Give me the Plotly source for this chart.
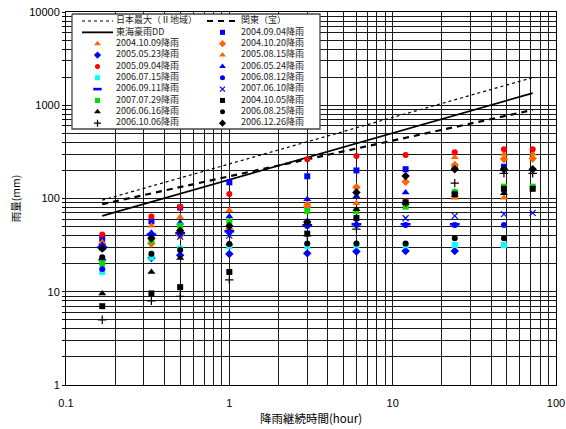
import plotly.graph_objects as go

# Rain duration of each measured maximum (minutes -> hours)
durations_min = [10, 20, 30, 60, 180, 360, 720, 1440, 2880, 4320]
hours = [m / 60 for m in durations_min]

# Reference envelope curves (end points of straight log-log lines)
curve_hours = [10 / 60, 72]
japan_max = [96, 1980]       # 日本最大(Ⅱ地域)
kanto = [87, 890]            # 関東(宝)
tokai_dd = [65, 1350]        # 東海豪雨DD

# Observed maximum rainfall (mm) per event, at each duration
r_20040904 = [37, 57, 80, 149, 173, 200, 206, 216, 219, None]
r_20041009 = [34, 51, 63.5, 75, 88.7, 88.7, 94, 102, 102, None]
r_20041020 = [32, 33, 40, 47, 81.6, 132, 151, 229, 265, 268]
r_20050523 = [22, 23, 24.6, 25.4, 25.8, 27, 27.4, 27.4, None, None]
r_20050815 = [None, None, None, None, None, None, None, 277, 300, 302]
r_20050904 = [41, 64, 81, 112, 263, 286, 293, 313, 337, 337]
r_20060524 = [32, 43, 55, 64, 98, 106, 116, 118, None, None]
r_20060715 = [16.3, 23.3, 29, 31, 31, 31.5, 31.5, 31.7, 31.7, None]
r_20060812 = [17.5, 40, 42, 44, 50.7, 52, 52, 52, 52, None]
r_20060911 = [30, 41, 42.5, 44.5, 51.5, 53, 53, 53, None, None]
r_20070610 = [30, 40, 39, 40, 56, 56, 61.4, 65, 68, 70]
r_20070729 = [20.3, 35.5, 51, 56.4, 73.4, 73.5, 81.6, 117, 134, 134]
r_20041005 = [7.0, 9.6, 11.2, 16.3, 42, 62, 91, 111, 127, 127]
r_20060616 = [9.6, 16.3, 23, 33, 55, 76.5, 90, 109, 114, None]
r_20060825 = [23.5, 25.5, 28, 32.5, 33, 33, 33, 37.4, 37.4, None]
r_20061006 = [5.0, 8.0, 8.9, 13.4, 40, 47, 90, 146, 186, 186]
r_20061226 = [29, 37.4, 45, 50.7, 56, 116, 174, 206, 206, 206]

# Axis tick labels (decades labelled, every 1..9 multiple gridded)
x_decades = [0.1, 1, 10, 100]
x_decade_text = ["0.1", "1", "10", "100"]
y_decades = [1, 10, 100, 1000, 10000]
y_decade_text = ["1", "10", "100", "1000", "10000"]


def log_grid(decades, labels):
    vals, text = [], []
    for d, lab in zip(decades, labels):
        vals.append(d)
        text.append(lab)
        if d != decades[-1]:
            for k in range(2, 10):
                vals.append(d * k)
                text.append("")
    return vals, text


x_tickvals, x_ticktext = log_grid(x_decades, x_decade_text)
y_tickvals, y_ticktext = log_grid(y_decades, y_decade_text)

BLUE = "#0000FF"
RED = "#FF0000"
ORANGE = "#FF6600"
CYAN = "#00FFFF"
GREEN = "#00DD00"
BLACK = "#000000"

# (label, values, symbol, color, size)
events = [
    ("2004.09.04降雨", r_20040904, "square", BLUE, 6),
    ("2004.10.09降雨", r_20041009, "triangle-up", ORANGE, 7),
    ("2004.10.20降雨", r_20041020, "diamond", ORANGE, 6.5),
    ("2005.05.23降雨", r_20050523, "diamond", BLUE, 6.5),
    ("2005.08.15降雨", r_20050815, "triangle-up", ORANGE, 7),
    ("2005.09.04降雨", r_20050904, "circle", RED, 6),
    ("2006.05.24降雨", r_20060524, "triangle-up", BLUE, 7),
    ("2006.07.15降雨", r_20060715, "square", CYAN, 6),
    ("2006.08.12降雨", r_20060812, "circle", BLUE, 6),
    ("2006.09.11降雨", r_20060911, "line-ew", BLUE, 7),
    ("2007.06.10降雨", r_20070610, "x-thin", BLUE, 6),
    ("2007.07.29降雨", r_20070729, "square", GREEN, 6),
    ("2004.10.05降雨", r_20041005, "square", BLACK, 6),
    ("2006.06.16降雨", r_20060616, "triangle-up", BLACK, 7),
    ("2006.08.25降雨", r_20060825, "circle", BLACK, 6),
    ("2006.10.06降雨", r_20061006, "cross-thin", BLACK, 6),
    ("2006.12.26降雨", r_20061226, "diamond", BLACK, 6.5),
]

curves = [
    ("日本最大（Ⅱ地域）", japan_max, "dot", 1.2),
    ("関東（宝）", kanto, "6px,5px", 2.2),
    ("東海豪雨DD", tokai_dd, "solid", 1.8),
]


def marker_style(symbol, color, size):
    if symbol in ("line-ew", "x-thin", "cross-thin"):
        lw = 2.6 if symbol == "line-ew" else 1.2
        return dict(symbol=symbol, size=size, color=color,
                    line=dict(color=color, width=lw))
    return dict(symbol=symbol, size=size, color=color, line=dict(width=0))


fig = go.Figure()

for name, vals, dash, w in curves:
    fig.add_trace(go.Scatter(
        x=curve_hours, y=vals, mode="lines", name=name, showlegend=False,
        line=dict(color=BLACK, width=w, dash=dash),
    ))

for name, vals, sym, col, size in events:
    fig.add_trace(go.Scatter(
        x=hours, y=vals, mode="markers", name=name, showlegend=False,
        marker=marker_style(sym, col, size),
    ))

# ---- two-column legend drawn on a pixel-scaled overlay axis ----
LX0, LX1, LY0, LY1 = 72, 320, 14, 129
fig.add_trace(go.Scatter(
    x=[LX0, LX1, LX1, LX0, LX0], y=[LY0, LY0, LY1, LY1, LY0],
    xaxis="x2", yaxis="y2", mode="lines", fill="toself",
    fillcolor="white", line=dict(color="#444444", width=1.3),
    showlegend=False, hoverinfo="skip",
))

legend_items = [("curve", c) for c in curves] + [("event", e) for e in events]
row_pitch = 11.35
col_x = [(82, 113, 97.5, 116), (207, 238, 222.5, 241)]
legend_x, legend_y, legend_text = [], [], []
for i, (kind, item) in enumerate(legend_items):
    row, col = divmod(i, 2)
    y = 21 + row * row_pitch
    x0, x1, xm, xt = col_x[col]
    if kind == "curve":
        name, _, dash, w = item
        fig.add_trace(go.Scatter(
            x=[x0, x1], y=[y, y], xaxis="x2", yaxis="y2", mode="lines",
            line=dict(color=BLACK, width=w, dash=dash),
            showlegend=False, hoverinfo="skip",
        ))
    else:
        name, _, sym, colr, size = item
        fig.add_trace(go.Scatter(
            x=[xm], y=[y], xaxis="x2", yaxis="y2", mode="markers",
            marker=marker_style(sym, colr, size - 1), showlegend=False, hoverinfo="skip",
        ))
    legend_x.append(xt)
    legend_y.append(y)
    legend_text.append(name)

# legend captions as a single text trace
fig.add_trace(go.Scatter(
    x=legend_x, y=legend_y, text=legend_text, mode="text",
    xaxis="x2", yaxis="y2", textposition="middle right",
    textfont=dict(family="Noto Sans CJK JP", size=9, color="#222222"),
    showlegend=False, hoverinfo="skip",
))

fig.update_layout(
    template="none",
    width=566, height=429,
    margin=dict(l=66, r=10, t=12, b=44, autoexpand=False),
    paper_bgcolor="white", plot_bgcolor="white",
    font=dict(family="Liberation Sans, Arial, sans-serif", size=11, color="black"),
    xaxis=dict(
        type="log", range=[-1, 2], tickmode="array",
        tickvals=x_tickvals, ticktext=x_ticktext, automargin=False,
        showgrid=True, gridcolor="#1a1a1a", gridwidth=1, zeroline=False,
        showline=True, linecolor=BLACK, linewidth=1, mirror=True,
        ticks="", ticklabelstandoff=8,
        tickfont=dict(family="Liberation Sans, Arial, sans-serif", size=11, color="black"),
        title=dict(text="降雨継続時間(hour)", standoff=6,
                   font=dict(family="Noto Sans CJK JP", size=11.5, color="black")),
    ),
    yaxis=dict(
        type="log", range=[0, 4], tickmode="array",
        tickvals=y_tickvals, ticktext=y_ticktext, automargin=False,
        showgrid=True, gridcolor="#1a1a1a", gridwidth=1, zeroline=False,
        showline=True, linecolor=BLACK, linewidth=1, mirror=True,
        ticks="outside", ticklen=3, tickcolor=BLACK, tickwidth=1,
        tickfont=dict(family="Liberation Sans, Arial, sans-serif", size=11, color="black"),
        title=dict(text="雨量(mm)", standoff=6,
                   font=dict(family="Noto Sans CJK JP", size=10.5, color="black")),
    ),
    xaxis2=dict(overlaying="x", anchor="y2", range=[66, 556], visible=False,
                fixedrange=True, automargin=False),
    yaxis2=dict(overlaying="y", anchor="x2", range=[385, 12], visible=False,
                fixedrange=True, automargin=False),
)

fig.write_html("out.html")
